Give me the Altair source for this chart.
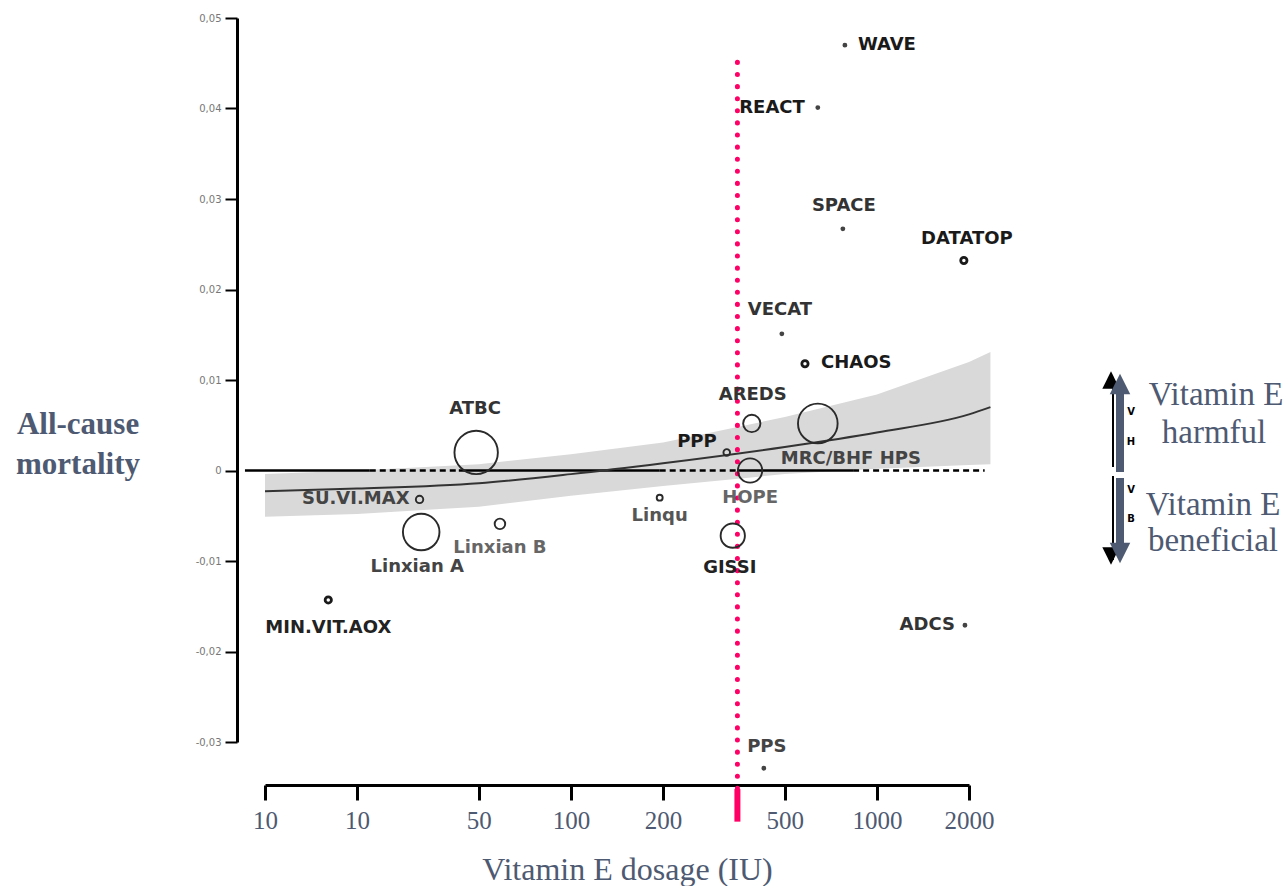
import altair as alt
import pandas as pd

# ---------------- data ----------------
studies = ["WAVE", "REACT", "SPACE", "DATATOP", "VECAT", "CHAOS", "AREDS",
           "MRC/BHF HPS", "PPP", "HOPE", "Linqu", "GISSI", "ATBC", "SU.VI.MAX",
           "Linxian A", "Linxian B", "MIN.VIT.AOX", "ADCS", "PPS"]
dose_iu = [786, 641, 774, 1924, 489, 582, 390, 641, 323, 385, 195, 338, 49,
           32, 32.4, 58.6, 16.1, 1940, 427]
mortality = [0.0470, 0.0401, 0.0267, 0.0232, 0.0151, 0.0118, 0.0052, 0.0052,
             0.0020, 0.0000, -0.0030, -0.0072, 0.0020, -0.0032, -0.0068,
             -0.0059, -0.0143, -0.0171, -0.0329]
weight = [0.3, 0.3, 0.3, 0.5, 0.3, 0.5, 3.8, 20, 0.55, 7.5, 0.45, 7.5, 24,
          0.7, 17, 1.4, 0.5, 0.3, 0.3]
kind = ["dot", "dot", "dot", "ring", "dot", "ring", "open", "open", "open",
        "open", "open", "open", "open", "open", "open", "open", "ring", "dot", "dot"]

fit_dose = [10, 20, 50, 100, 200, 500, 1000, 2000, 2350]
fit_mid = [-0.0023, -0.0020, -0.0014, -0.0004, 0.0008, 0.0026, 0.0042, 0.0062, 0.0070]
fit_lo = [-0.0051, -0.0048, -0.0040, -0.0028, -0.0017, -0.0004, 0.0002, 0.0006, 0.0007]
fit_hi = [-0.0004, 0.0000, 0.0007, 0.0018, 0.0031, 0.0059, 0.0084, 0.0120, 0.0131]

x_ticks = [10, 20, 50, 100, 200, 500, 1000, 2000]
x_tick_labels = ["10", "10", "50", "100", "200", "500", "1000", "2000"]
y_ticks = [-0.03, -0.02, -0.01, 0, 0.01, 0.02, 0.03, 0.04, 0.05]
y_tick_labels = ["-0,03", "-0,02", "-0,01", "0", "0,01", "0,02", "0,03", "0,04", "0,05"]

ref_dose = 350
ref_top, ref_bottom, bar_bottom = 0.0451, -0.0352, -0.0388
zero_solid = [(8.6, 22), (43, 195), (349, 836)]
zero_dashed = [(22, 43), (195, 349), (836, 2250)]

# ---------------- layout / style ----------------
SLATE = "#4e5a72"
SERIF = "Liberation Serif"
PINK = "#ff0066"
W, H = 704, 724

label_layout = {  # align, dx, dy, color
    "WAVE": ("left", 13, 0, "#1a1a1a"),
    "REACT": ("right", -13, 0, "#1a1a1a"),
    "SPACE": ("center", 1, -23, "#333"),
    "DATATOP": ("center", 3, -22, "#1a1a1a"),
    "VECAT": ("center", -2, -24, "#333"),
    "CHAOS": ("left", 16, -1, "#1a1a1a"),
    "AREDS": ("center", 1, -28, "#333"),
    "MRC/BHF HPS": ("center", 33, 36, "#444"),
    "PPP": ("right", -10, -10, "#1a1a1a"),
    "HOPE": ("center", 0, 27, "#666"),
    "Linqu": ("center", 0, 18, "#555"),
    "GISSI": ("center", -3, 32, "#222"),
    "ATBC": ("center", -1, -43, "#333"),
    "SU.VI.MAX": ("right", -10, 0, "#444"),
    "Linxian A": ("center", -4, 35, "#444"),
    "Linxian B": ("center", 0, 24, "#666"),
    "MIN.VIT.AOX": ("center", 0, 28, "#222"),
    "ADCS": ("right", -10, 0, "#333"),
    "PPS": ("center", 3, -21, "#444"),
}


def tern(vals, labs):
    expr = "''"
    for v, l in reversed(list(zip(vals, labs))):
        expr = f"(abs(datum.value - ({v})) < 1e-6 ? '{l}' : {expr})"
    return expr


xscale = alt.Scale(type="log", domain=[10, 2000], nice=False)
yscale = alt.Scale(domain=[-0.03, 0.05], nice=False, zero=False)

xaxis = alt.Axis(values=x_ticks, labelExpr=tern(x_ticks, x_tick_labels),
                 offset=43, domainWidth=3, domainColor="black", tickWidth=3,
                 tickColor="black", tickSize=15, grid=False,
                 labelFont=SERIF, labelFontSize=25, labelColor=SLATE,
                 labelPadding=8, title="Vitamin E dosage (IU)", titleFont=SERIF,
                 titleFontSize=32, titleFontWeight="normal", titleColor=SLATE,
                 titlePadding=21, titleX=362, titleAlign="center", labelFlush=False)
yaxis = alt.Axis(values=y_ticks, labelExpr=tern(y_ticks, y_tick_labels),
                 offset=28, domainWidth=3, domainColor="black", tickWidth=2,
                 tickColor="black", tickSize=12, grid=False,
                 labelFont="DejaVu Sans", labelFontSize=10, labelColor="#777",
                 labelPadding=4, title=None, labelFlush=False)


def X(field="dose"):
    return alt.X(f"{field}:Q", scale=xscale, axis=xaxis)


def Y(field="val"):
    return alt.Y(f"{field}:Q", scale=yscale, axis=yaxis)


pts = pd.DataFrame({"study": studies, "dose": dose_iu, "val": mortality,
                    "weight": weight, "kind": kind})
fit = pd.DataFrame({"dose": fit_dose, "val": fit_lo, "val2": fit_hi, "mid": fit_mid})
size = alt.Size("weight:Q", scale=alt.Scale(domain=[0, 24], range=[0, 1885]), legend=None)

band = alt.Chart(fit).mark_area(color="#d9d9d9", opacity=1).encode(
    x=X(), y=Y(), y2="val2:Q")
fit_line = alt.Chart(fit).mark_line(color="#333", strokeWidth=2, interpolate="monotone").encode(
    x=X(), y=alt.Y("mid:Q", scale=yscale, axis=yaxis))

zs = pd.DataFrame({"dose": [a for a, b in zero_solid], "dose2": [b for a, b in zero_solid],
                   "val": [0.0] * len(zero_solid)})
zd = pd.DataFrame({"dose": [a for a, b in zero_dashed], "dose2": [b for a, b in zero_dashed],
                   "val": [0.0] * len(zero_dashed)})
zero_s = alt.Chart(zs).mark_rule(color="black", strokeWidth=2.5).encode(x=X(), x2="dose2:Q", y=Y())
zero_d = alt.Chart(zd).mark_rule(color="black", strokeWidth=2.5, strokeDash=[6, 4]).encode(
    x=X(), x2="dose2:Q", y=Y())

refdf = pd.DataFrame({"dose": [ref_dose], "val": [ref_top], "val2": [ref_bottom]})
ref_dots = alt.Chart(refdf).mark_rule(color=PINK, strokeWidth=5, strokeDash=[0.1, 12],
                                       strokeCap="round").encode(x=X(), y=Y(), y2="val2:Q")
bardf = pd.DataFrame({"dose": [ref_dose], "val": [ref_bottom], "val2": [bar_bottom]})
ref_bar = alt.Chart(bardf).mark_rule(color=PINK, strokeWidth=6).encode(x=X(), y=Y(), y2="val2:Q")

open_c = alt.Chart(pts).transform_filter("datum.kind == 'open'").mark_point(
    shape="circle", filled=False, color="#2a2a2a", strokeWidth=1.9, opacity=1).encode(
    x=X(), y=Y(), size=size)
ring_c = alt.Chart(pts).transform_filter("datum.kind == 'ring'").mark_point(
    shape="circle", filled=False, color="#1a1a1a", strokeWidth=2.8, opacity=1).encode(
    x=X(), y=Y(), size=size)
dot_c = alt.Chart(pts).transform_filter("datum.kind == 'dot'").mark_point(
    shape="circle", filled=True, color="#444", opacity=1).encode(
    x=X(), y=Y(), size=size)

label_layers = []
for s in studies:
    al, dx, dy, col = label_layout[s]
    label_layers.append(
        alt.Chart(pts).transform_filter(alt.datum.study == s).mark_text(
            align=al, baseline="middle", dx=dx, dy=dy, font="DejaVu Sans",
            fontWeight="bold", fontSize=18, color=col).encode(
            x=X(), y=Y(), text="study:N"))

one = pd.DataFrame({"a": [0]})


def rule(x, y, y2, color, w):
    return alt.Chart(one).mark_rule(color=color, strokeWidth=w).encode(
        x=alt.value(x), y=alt.value(y), y2=alt.value(y2))


def tri(x, y, path, color, s):
    return alt.Chart(one).mark_point(shape=path, filled=True, color=color, size=s,
                                     opacity=1).encode(x=alt.value(x), y=alt.value(y))


def txt(x, y, t, size, color, font=SERIF, weight="normal", align="center"):
    return alt.Chart(one).mark_text(font=font, fontSize=size, color=color,
                                    fontWeight=weight, align=align, baseline="middle").encode(
        x=alt.value(x), y=alt.value(y), text=alt.value(t))


UP = "M0,-1L1,1L-1,1Z"
DOWN = "M0,1L1,-1L-1,-1Z"
annots = [
    rule(848, 368, 449, "black", 2),
    rule(848, 458, 542, "black", 2),
    tri(846, 362, UP, "black", 300),
    tri(846, 538, DOWN, "black", 300),
    rule(855, 374, 454, SLATE, 8),
    rule(855, 460, 527, SLATE, 8),
    tri(855, 366, UP, SLATE, 420),
    tri(855, 535, DOWN, SLATE, 420),
    txt(866, 394, "V", 10, "black", "DejaVu Sans", "bold"),
    txt(866, 424, "H", 10, "black", "DejaVu Sans", "bold"),
    txt(866, 472, "V", 10, "black", "DejaVu Sans", "bold"),
    txt(866, 501, "B", 10, "black", "DejaVu Sans", "bold"),
    txt(951, 377, "Vitamin E", 33, SLATE),
    txt(949, 415, "harmful", 33, SLATE),
    txt(948, 487, "Vitamin E", 33, SLATE),
    txt(948, 523, "beneficial", 33, SLATE),
    txt(-187, 407, "All-cause", 31, SLATE, weight="bold"),
    txt(-187, 447, "mortality", 31, SLATE, weight="bold"),
]

chart = alt.layer(band, zero_s, zero_d, fit_line, ref_dots, ref_bar,
                  open_c, ring_c, dot_c, *label_layers, *annots).properties(
    width=W, height=H,
    autosize=alt.AutoSizeParams(type="none"),
    padding={"left": 265, "top": 18, "right": 318, "bottom": 144},
    background="white",
).configure_view(stroke=None)

chart.save("out.html", embed_options={"renderer": "svg", "actions": False})
